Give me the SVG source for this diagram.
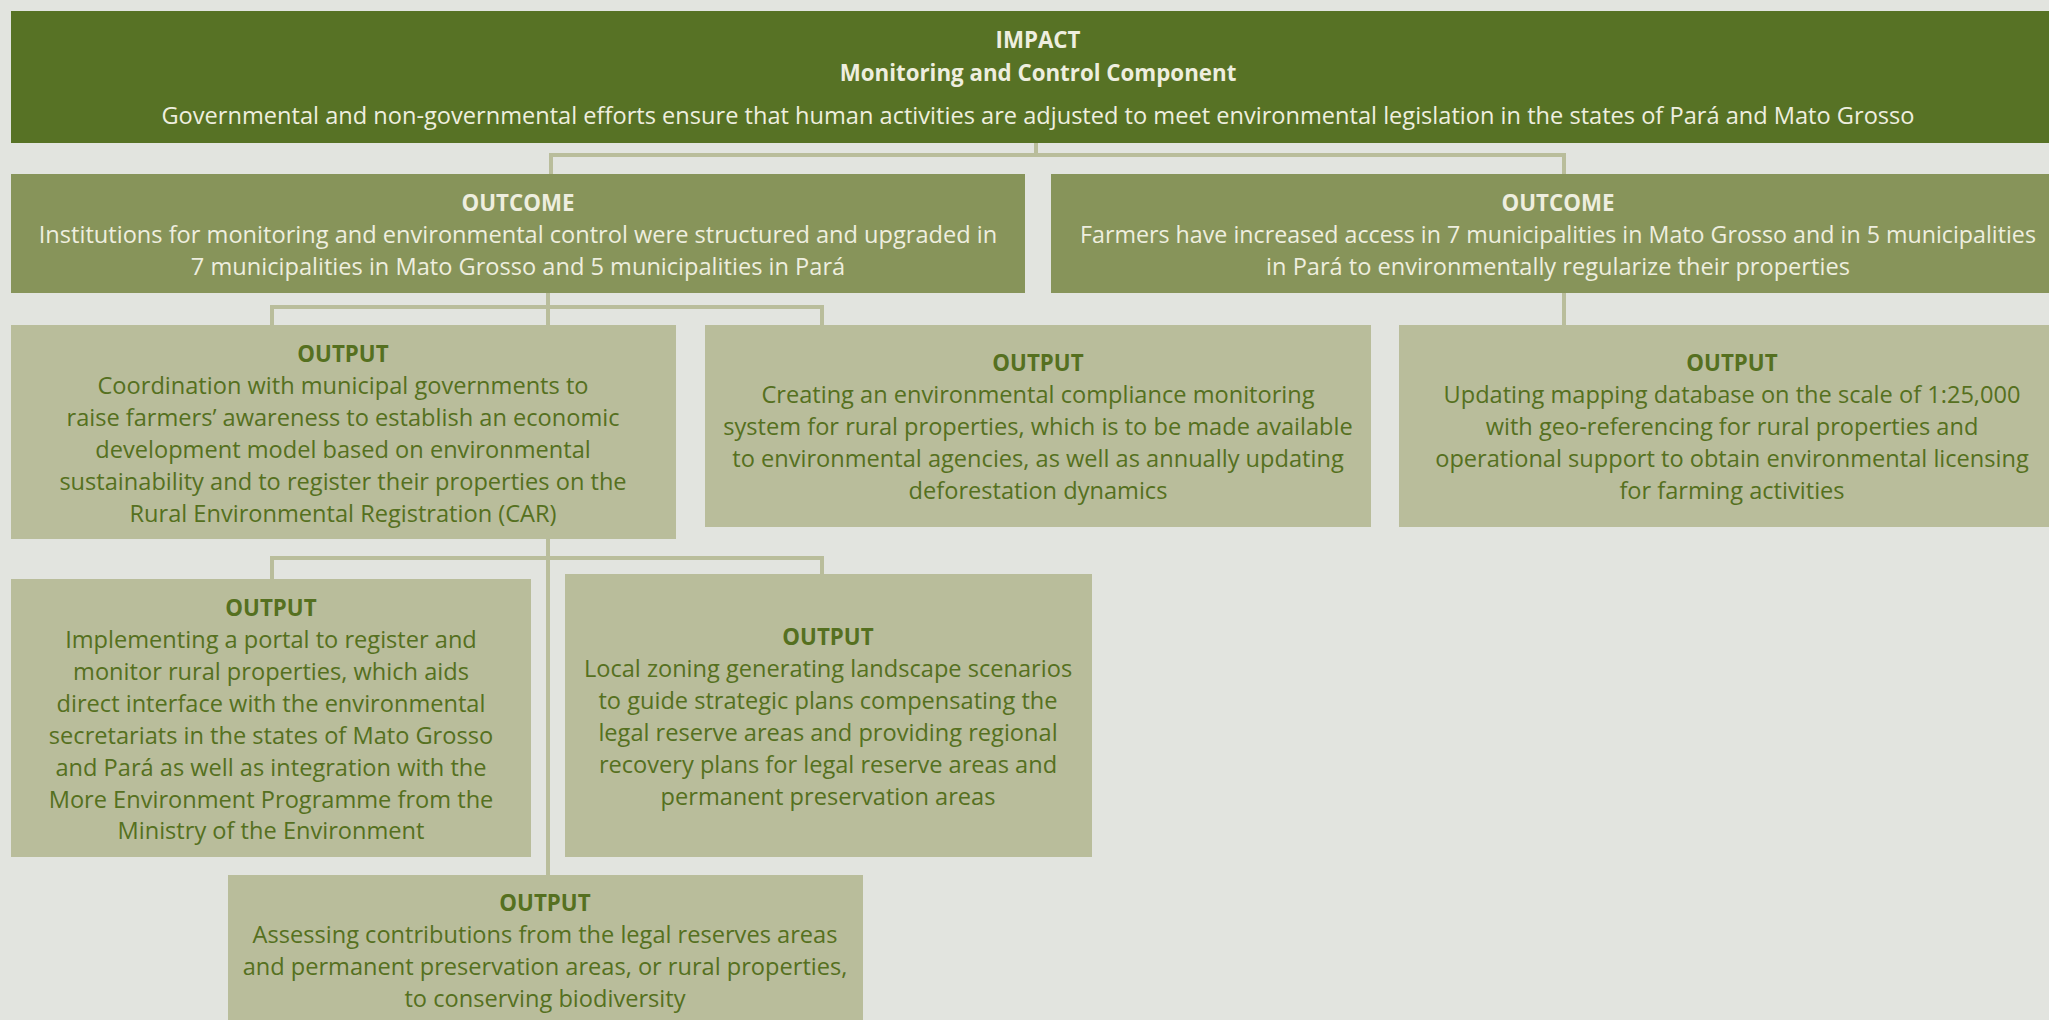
<svg xmlns="http://www.w3.org/2000/svg" width="2049" height="1020" viewBox="0 0 2049 1020">
<style>
.bg{fill:#e2e4df}
.impact{fill:#577225}
.outcome{fill:#87945a}
.output{fill:#b9bd9b}
.conn{fill:none;stroke:#b9bd9b;stroke-width:4}
text{font-family:"Open Sans","Noto Sans",sans-serif;font-size:23.6px;text-anchor:middle}
.lt{fill:#eeeedf}
.dk{fill:#557020}
.b{font-weight:bold;font-size:22.3px}
</style>
<rect class="bg" x="0" y="0" width="2049" height="1020"/>
<g id="connectors">
<path class="conn" d="M1036,143 V155 M551,174 V155 H1564 V174"/>
<path class="conn" d="M1564,293 V325"/>
<path class="conn" d="M548,293 V325 M272,325 V307 H822 V325"/>
<path class="conn" d="M548,539 V875 M272,579 V558 H822 V574"/>
</g>
<g id="impact">
<rect class="impact" x="11" y="11" width="2038" height="132"/>
<text class="lt b" x="1038" y="48">IMPACT</text>
<text class="lt b" x="1038" y="81">Monitoring and Control Component</text>
<text class="lt" x="1038" y="124">Governmental and non-governmental efforts ensure that human activities are adjusted to meet environmental legislation in the states of Pará and Mato Grosso</text>
</g>
<g id="outcome1">
<rect class="outcome" x="11" y="174" width="1014" height="119"/>
<text class="lt b" x="518" y="211">OUTCOME</text>
<text class="lt" x="518" y="243">Institutions for monitoring and environmental control were structured and upgraded in</text>
<text class="lt" x="518" y="275">7 municipalities in Mato Grosso and 5 municipalities in Pará</text>
</g>
<g id="outcome2">
<rect class="outcome" x="1051" y="174" width="998" height="119"/>
<text class="lt b" x="1558" y="211">OUTCOME</text>
<text class="lt" x="1558" y="243" textLength="956" lengthAdjust="spacingAndGlyphs">Farmers have increased access in 7 municipalities in Mato Grosso and in 5 municipalities</text>
<text class="lt" x="1558" y="275">in Pará to environmentally regularize their properties</text>
</g>
<g id="output1">
<rect class="output" x="11" y="325" width="665" height="214"/>
<text class="dk b" x="343" y="362">OUTPUT</text>
<text class="dk" x="343" y="394">Coordination with municipal governments to</text>
<text class="dk" x="343" y="426">raise farmers’ awareness to establish an economic</text>
<text class="dk" x="343" y="458">development model based on environmental</text>
<text class="dk" x="343" y="490">sustainability and to register their properties on the</text>
<text class="dk" x="343" y="522">Rural Environmental Registration (CAR)</text>
</g>
<g id="output2">
<rect class="output" x="705" y="325" width="666" height="202"/>
<text class="dk b" x="1038" y="371">OUTPUT</text>
<text class="dk" x="1038" y="403">Creating an environmental compliance monitoring</text>
<text class="dk" x="1038" y="435">system for rural properties, which is to be made available</text>
<text class="dk" x="1038" y="467">to environmental agencies, as well as annually updating</text>
<text class="dk" x="1038" y="499">deforestation dynamics</text>
</g>
<g id="output3">
<rect class="output" x="1399" y="325" width="650" height="202"/>
<text class="dk b" x="1732" y="371">OUTPUT</text>
<text class="dk" x="1732" y="403">Updating mapping database on the scale of 1:25,000</text>
<text class="dk" x="1732" y="435">with geo-referencing for rural properties and</text>
<text class="dk" x="1732" y="467">operational support to obtain environmental licensing</text>
<text class="dk" x="1732" y="499">for farming activities</text>
</g>
<g id="output4">
<rect class="output" x="11" y="579" width="520" height="278"/>
<text class="dk b" x="271" y="616">OUTPUT</text>
<text class="dk" x="271" y="648">Implementing a portal to register and</text>
<text class="dk" x="271" y="680">monitor rural properties, which aids</text>
<text class="dk" x="271" y="712">direct interface with the environmental</text>
<text class="dk" x="271" y="744">secretariats in the states of Mato Grosso</text>
<text class="dk" x="271" y="776">and Pará as well as integration with the</text>
<text class="dk" x="271" y="808">More Environment Programme from the</text>
<text class="dk" x="271" y="839">Ministry of the Environment</text>
</g>
<g id="output5">
<rect class="output" x="565" y="574" width="527" height="283"/>
<text class="dk b" x="828" y="645">OUTPUT</text>
<text class="dk" x="828" y="677">Local zoning generating landscape scenarios</text>
<text class="dk" x="828" y="709">to guide strategic plans compensating the</text>
<text class="dk" x="828" y="741">legal reserve areas and providing regional</text>
<text class="dk" x="828" y="773">recovery plans for legal reserve areas and</text>
<text class="dk" x="828" y="805">permanent preservation areas</text>
</g>
<g id="output6">
<rect class="output" x="228" y="875" width="635" height="145"/>
<text class="dk b" x="545" y="911">OUTPUT</text>
<text class="dk" x="545" y="943">Assessing contributions from the legal reserves areas</text>
<text class="dk" x="545" y="975">and permanent preservation areas, or rural properties,</text>
<text class="dk" x="545" y="1007">to conserving biodiversity</text>
</g>
</svg>
